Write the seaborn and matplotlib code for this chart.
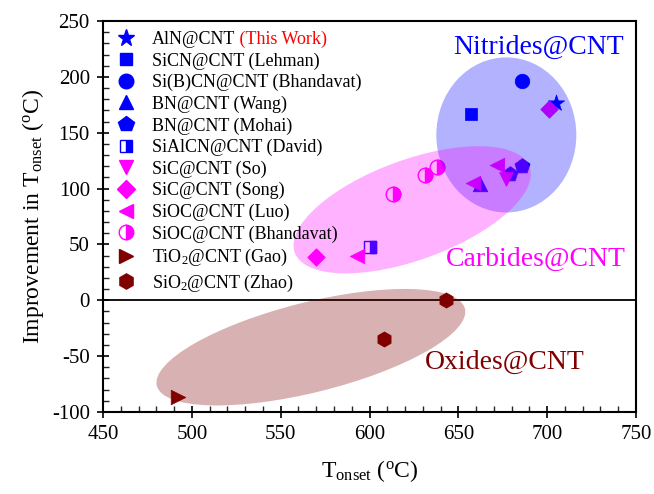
import numpy as np
import pandas as pd
import seaborn as sns
import matplotlib.pyplot as plt
from matplotlib.lines import Line2D
from matplotlib.markers import MarkerStyle
from matplotlib.patches import Circle
from matplotlib.transforms import Affine2D
from matplotlib.ticker import MultipleLocator

# series: onset temperature (C) and improvement (C)
labels = [
    "AlN@CNT", "SiCN@CNT (Lehman)", "Si(B)CN@CNT (Bhandavat)", "BN@CNT (Wang)",
    "BN@CNT (Mohai)", "SiAlCN@CNT (David)", "SiC@CNT (So)", "SiC@CNT (Song)",
    "SiOC@CNT (Luo)", "SiOC@CNT (Bhandavat)", "TiO$_2$@CNT (Gao)", "SiO$_2$@CNT (Zhao)",
]
t_onset = [
    [705], [657], [686], [662], [679, 686], [600], [677], [570, 701],
    [593, 658, 672], [613, 631, 638], [492], [608, 643],
]
improvement = [
    [177], [167], [196], [104], [113, 120], [48], [109], [39, 171],
    [40, 105, 121], [95, 112, 119], [-87], [-35, 0],
]
markers = ["*", "s", "o", "^", "p", "s", "v", "D", "<", "o", ">", "h"]
half = [False, False, False, False, False, True, False, False, False, True, False, False]

BLUE, MAGENTA, DARKRED = "#0000FF", "#FF00FF", "#800000"
colors = [BLUE] * 6 + [MAGENTA] * 4 + [DARKRED] * 2
sizes = [150, 85, 110, 110, 130, 80, 100, 80, 110, 110, 110, 120]

# group ellipses: centre, two conjugate semi-axes (data units)
groups = {
    "Nitrides@CNT": dict(c=(677, 148), a=(39.4, 0), b=(0, 69.4), color=BLUE,
                         txt=(647, 221)),
    "Carbides@CNT": dict(c=(624, 81), a=(66.1, 38.3), b=(-9.6, 42.1), color=MAGENTA,
                         txt=(643, 31)),
    "Oxides@CNT": dict(c=(567, -42), a=(86.7, 34.5), b=(-6.1, 39.1), color=DARKRED,
                       txt=(631, -61)),
}

sns.set_style("ticks")
plt.rcParams["font.family"] = ["Liberation Serif", "DejaVu Serif"]
plt.rcParams["mathtext.fontset"] = "custom"
plt.rcParams["mathtext.rm"] = "Liberation Serif"
plt.rcParams["mathtext.it"] = "Liberation Serif:italic"
plt.rcParams["axes.unicode_minus"] = False
plt.rcParams["text.color"] = "black"
plt.rcParams["axes.labelcolor"] = "black"

fig = plt.figure(figsize=(6.54, 4.94), dpi=100)
ax = fig.add_axes([0.1575, 0.166, 0.815, 0.7915])

for lab, xs, ys, m, h, c, s in zip(labels, t_onset, improvement, markers, half, colors, sizes):
    df = pd.DataFrame({"T": xs, "imp": ys})
    if h:
        sns.scatterplot(data=df, x="T", y="imp", marker=m, s=s, color="white",
                        edgecolor=c, linewidth=1.0, ax=ax, zorder=3, legend=False)
        sns.scatterplot(data=df, x="T", y="imp", marker=MarkerStyle(m, fillstyle="right"),
                        s=s, color=c, edgecolor=c, linewidth=1.0, ax=ax, zorder=3,
                        legend=False)
    else:
        sns.scatterplot(data=df, x="T", y="imp", marker=m, s=s, color=c,
                        edgecolor=c, linewidth=0.5, ax=ax, zorder=3, legend=False)

for name, g in groups.items():
    mat = np.array([[g["a"][0], g["b"][0], g["c"][0]],
                    [g["a"][1], g["b"][1], g["c"][1]],
                    [0, 0, 1]])
    ell = Circle((0, 0), 1, transform=Affine2D(mat) + ax.transData,
                 facecolor=g["color"], edgecolor="none", alpha=0.3, zorder=4)
    ax.add_patch(ell)
    ax.text(g["txt"][0], g["txt"][1], name, color=g["color"], fontsize=20,
            ha="left", va="baseline", zorder=5)

ax.axhline(0, color="black", lw=1.3, zorder=2)

ax.set_xlim(450, 750)
ax.set_ylim(-100, 250)
ax.xaxis.set_major_locator(MultipleLocator(50))
ax.xaxis.set_minor_locator(MultipleLocator(10))
ax.yaxis.set_major_locator(MultipleLocator(50))
ax.yaxis.set_minor_locator(MultipleLocator(10))
ax.tick_params(which="major", direction="inout", length=9, width=1.2, labelsize=15,
               pad=5, top=False, right=False, colors="black")
ax.tick_params(which="minor", direction="in", length=4, width=1.0, top=False, right=False)
for sp in ax.spines.values():
    sp.set_linewidth(1.5)
    sp.set_color("black")

ax.set_xlabel(r"T$_{\mathrm{onset}}$ ($^{\mathrm{o}}$C)", fontsize=17, labelpad=10)
ax.set_ylabel(r"Improvement in T$_{\mathrm{onset}}$ ($^{\mathrm{o}}$C)", fontsize=17,
              labelpad=4)

handles = []
for m, h, c, s in zip(markers, half, colors, sizes):
    if h:
        handles.append(Line2D([], [], ls="none", marker=m, markersize=np.sqrt(s),
                              fillstyle="right", color=c, markeredgecolor=c,
                              markerfacecoloralt="white"))
    else:
        handles.append(Line2D([], [], ls="none", marker=m, markersize=np.sqrt(s),
                              color=c, markeredgecolor=c))
leg = ax.legend(handles, labels, loc="upper left", bbox_to_anchor=(0.0, 1.0),
                frameon=False, fontsize=13, labelspacing=0.24, handlelength=1.4,
                handletextpad=0.75, borderaxespad=0.25, borderpad=0.3)
leg.set_zorder(6)
for t in leg.get_texts():
    t.set_color("black")
first = leg.get_texts()[0]
ax.annotate(" (This Work)", xy=(1, 0), xycoords=first, va="bottom", ha="left",
            color="red", fontsize=13, zorder=7)

fig.savefig("out.png", dpi=100)
